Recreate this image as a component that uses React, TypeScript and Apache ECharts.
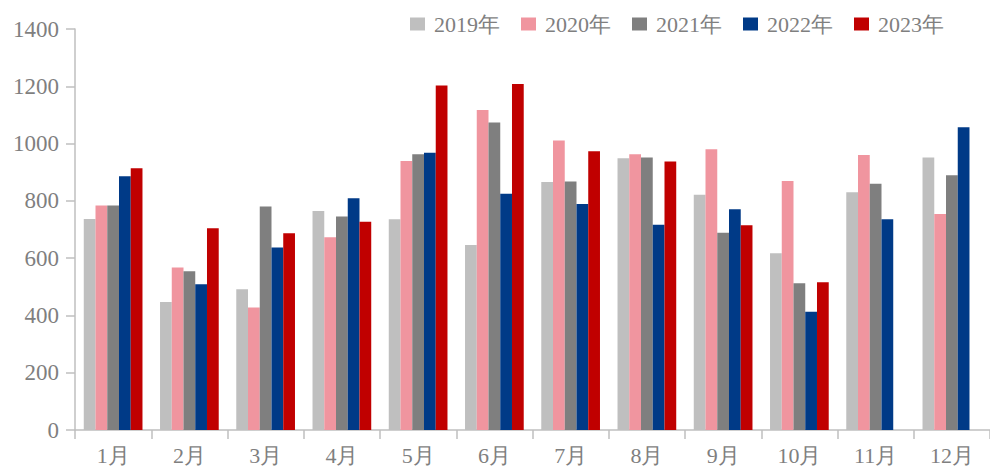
import React, { useEffect, useRef } from "react";
import * as echarts from "echarts";

const months = ["1月", "2月", "3月", "4月", "5月", "6月", "7月", "8月", "9月", "10月", "11月", "12月"];
const years = ["2019年", "2020年", "2021年", "2022年", "2023年"];
const s2019 = [737, 447, 491, 765, 736, 646, 866, 949, 821, 617, 830, 951];
const s2020 = [784, 567, 428, 673, 939, 1117, 1011, 963, 980, 869, 960, 754];
const s2021 = [784, 554, 780, 745, 963, 1074, 868, 951, 689, 512, 860, 889];
const s2022 = [886, 509, 637, 809, 968, 825, 789, 717, 771, 413, 736, 1057];
const s2023 = [914, 704, 687, 727, 1203, 1208, 973, 937, 715, 516, null, null];
const colors = ["#BFBFBF", "#F0959F", "#7F7F7F", "#003A87", "#C00000"];

const FONT = "Liberation Serif";

export default function App() {
  const ref = useRef<HTMLDivElement>(null);
  useEffect(() => {
    if (!ref.current) return;
    const chart = echarts.init(ref.current, undefined, { renderer: "svg" });
    const data = [s2019, s2020, s2021, s2022, s2023];
    chart.setOption({
      animation: false,
      color: colors,
      textStyle: { fontFamily: FONT },
      legend: {
        top: 8,
        left: 405,
        itemWidth: 15,
        itemHeight: 13,
        itemGap: 21,
        itemStyle: { borderWidth: 0 },
        icon: "rect",
        textStyle: { fontFamily: FONT, fontSize: 22, color: "#7F7F7F", padding: [0, 0, 0, 4] },
        data: years,
      },
      grid: { left: 75, right: -9, top: 29, bottom: 42 },
      xAxis: {
        type: "category",
        data: months,
        axisLine: { lineStyle: { color: "#BFBFBF", width: 1.5 } },
        axisTick: { show: true, length: 9, lineStyle: { color: "#BFBFBF", width: 1.5 } },
        axisLabel: { fontFamily: FONT, fontSize: 22, color: "#7F7F7F", margin: 14 },
      },
      yAxis: {
        type: "value",
        min: 0,
        max: 1400,
        interval: 200,
        splitLine: { show: false },
        axisLine: { show: true, lineStyle: { color: "#BFBFBF", width: 1.5 } },
        axisTick: { show: true, length: 9, lineStyle: { color: "#BFBFBF", width: 1.5 } },
        axisLabel: {
          fontFamily: FONT,
          fontSize: 23,
          color: "#7F7F7F",
          margin: 16,
          formatter: (v: number) => String(v),
        },
      },
      series: years.map((y, i) => ({
        name: y,
        type: "bar",
        data: data[i],
        barGap: "0%",
        barCategoryGap: "23%",
        itemStyle: { color: colors[i] },
      })),
    });
    return () => chart.dispose();
  }, []);
  return <div ref={ref} style={{ width: 990, height: 472, position: "absolute", left: 0, top: 0 }} />;
}
